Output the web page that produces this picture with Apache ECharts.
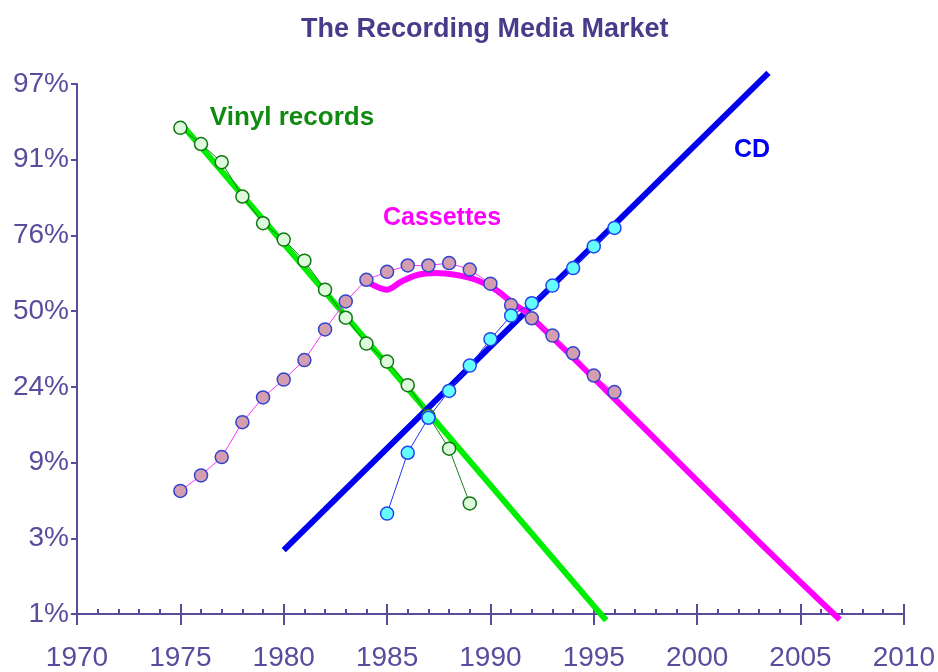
<!DOCTYPE html>
<html><head><meta charset="utf-8">
<script src="https://cdn.jsdelivr.net/npm/echarts@6/dist/echarts.min.js"></script>
<style>html,body{margin:0;padding:0;background:#fff}#c{width:938px;height:672px}</style>
</head><body><div id="c"></div>
<script>
// Market share (%)
const vinylYears = [1975,1976,1977,1978,1979,1980,1981,1982,1983,1984,1985,1986,1987,1988,1989];
const vinyl = [94.2,92.7,90.6,85.1,79.2,74.8,68.3,58.1,47.5,37.9,31.7,24.5,16.9,11.0,5.1];
const cassetteYears = [1975,1976,1977,1978,1979,1980,1981,1982,1983,1984,1985,1986,1987,1988,1989,1990,1991,1992,1993,1994,1995,1996];
const cassettes = [6.1,7.6,9.8,15.6,21.2,26.1,32.2,43.1,53.7,61.7,64.5,66.7,66.7,67.5,65.3,60.3,52.3,47.3,40.8,34.5,27.3,22.6];
const cdYears = [1985,1986,1987,1988,1989,1990,1991,1992,1993,1994,1995,1996];
const cd = [4.4,10.4,16.5,22.9,30.4,39.5,48.3,53.0,59.6,65.8,72.8,78.0];
// Fitted trend curves (year, share %)
const vinylTrendYears = [1975, 1995.6];
const vinylTrend = [94.6, 0.9];
const cdTrendYears = [1980, 2003.45];
const cdTrend = [2.57, 97.4];
const cassetteTrendYears = [1984.2,1985.0,1985.7,1986.5,1987.35,1988.3,1989.3,1990.25,1991.05,1991.85,1997.1,2003.0,2006.9];
const cassetteTrend = [60.3,58.1,61.1,63.5,64.1,63.5,61.7,58.1,53.2,48.7,15.8,2.9,0.91];
// Axis tick labels
const yTickLabels = ['1%','3%','9%','24%','50%','76%','91%','97%'];
const xMin = 1970, xMax = 2010;

// Fisher-Pry (logit) transform: log10(p / (100 - p))
function logit(p){ return Math.log10(p / (100 - p)); }
function pairs(xs, ys){ return xs.map((x, i) => [x, logit(ys[i])]); }

const axisColor = '#5a4b9c';
const chart = echarts.init(document.getElementById('c'));
const baseX = {
  type: 'value', min: xMin, max: xMax, interval: 5, position: 'bottom',
  splitLine: { show: false },
  axisLine: { onZero: false, lineStyle: { color: axisColor, width: 2 } }
};
chart.setOption({
  animation: false,
  backgroundColor: '#fff',
  title: {
    text: 'The Recording Media Market', left: 296, top: 11,
    textStyle: { fontFamily: 'Liberation Sans', fontWeight: 'bold', fontSize: 27, color: '#4a3a8a' }
  },
  grid: { left: 77, right: 32, top: 84, bottom: 57, containLabel: false },
  xAxis: [
    Object.assign({}, baseX, {
      axisTick: { show: true, inside: true, length: 10, lineStyle: { color: axisColor, width: 2 } },
      minorTick: { show: true, splitNumber: 5, length: 5, lineStyle: { color: axisColor, width: 2 } },
      axisLabel: { show: false }
    }),
    Object.assign({}, baseX, {
      axisTick: { show: true, inside: false, length: 11, lineStyle: { color: axisColor, width: 2 } },
      axisLabel: { show: true, margin: 30, color: axisColor, fontFamily: 'Liberation Sans', fontSize: 28,
        formatter: v => String(v) }
    })
  ],
  yAxis: {
    type: 'value', min: -2, max: 1.5, interval: 0.5,
    splitLine: { show: false },
    axisLine: { show: true, onZero: false, lineStyle: { color: axisColor, width: 2 } },
    axisTick: { show: true, inside: false, length: 6, lineStyle: { color: axisColor, width: 2 } },
    axisLabel: { margin: 8, color: axisColor, fontFamily: 'Liberation Sans', fontSize: 28,
      formatter: v => yTickLabels[Math.round((v + 2) / 0.5)] }
  },
  series: [
    { type: 'line', name: 'Vinyl trend', data: pairs(vinylTrendYears, vinylTrend), xAxisIndex: 0,
      showSymbol: false, clip: false, z: 2, lineStyle: { color: '#00ee00', width: 6 } },
    { type: 'line', name: 'CD trend', data: pairs(cdTrendYears, cdTrend), xAxisIndex: 0,
      showSymbol: false, clip: false, z: 2, lineStyle: { color: '#0000ee', width: 6 } },
    { type: 'line', name: 'Cassette trend', data: pairs(cassetteTrendYears, cassetteTrend), xAxisIndex: 0,
      showSymbol: false, clip: false, smooth: 0.35, z: 2, lineStyle: { color: '#ff00ff', width: 6 } },
    { type: 'line', name: 'Vinyl records', data: pairs(vinylYears, vinyl), xAxisIndex: 0, z: 3,
      symbol: 'circle', symbolSize: 13,
      lineStyle: { color: '#1f7f1f', width: 1 },
      itemStyle: { color: '#ddfadd', borderColor: '#117711', borderWidth: 1.5 } },
    { type: 'line', name: 'Cassettes', data: pairs(cassetteYears, cassettes), xAxisIndex: 0, z: 4,
      symbol: 'circle', symbolSize: 13,
      lineStyle: { color: '#ff33ff', width: 1 },
      itemStyle: { color: '#d49eb0', borderColor: '#3344cc', borderWidth: 1.5 } },
    { type: 'line', name: 'CD', data: pairs(cdYears, cd), xAxisIndex: 0, z: 5,
      symbol: 'circle', symbolSize: 13,
      lineStyle: { color: '#2233ee', width: 1 },
      itemStyle: { color: '#66ffff', borderColor: '#2244ee', borderWidth: 1.5 } }
  ],
  graphic: [
    { type: 'text', x: 292, y: 118, z: 10, style: { text: 'Vinyl records', fill: '#108a10',
      font: 'bold 26px "Liberation Sans"', textAlign: 'center', textVerticalAlign: 'middle' } },
    { type: 'text', x: 442, y: 218, z: 10, style: { text: 'Cassettes', fill: '#ff00ff',
      font: 'bold 25px "Liberation Sans"', textAlign: 'center', textVerticalAlign: 'middle' } },
    { type: 'text', x: 752, y: 150, z: 10, style: { text: 'CD', fill: '#0000ee',
      font: 'bold 25px "Liberation Sans"', textAlign: 'center', textVerticalAlign: 'middle' } }
  ]
});
</script>
</body></html>
